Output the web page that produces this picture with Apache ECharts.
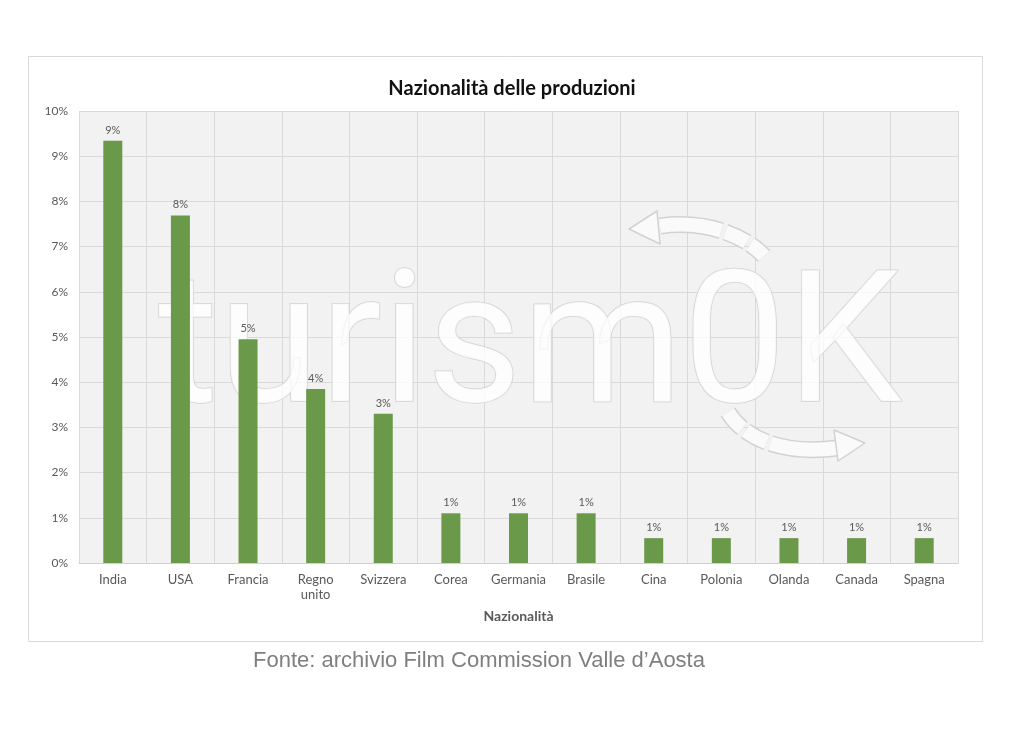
<!DOCTYPE html>
<html>
<head>
<meta charset="utf-8">
<style>html,body{margin:0;padding:0;background:#fff;}#c{width:1024px;height:740px;}</style>
<script src="https://cdn.jsdelivr.net/npm/echarts@6/dist/echarts.min.js"></script>
</head>
<body>
<div id="c"></div>
<script>
const categories = ['India','USA','Francia','Regno\nunito','Svizzera','Corea','Germania','Brasile','Cina','Polonia','Olanda','Canada','Spagna'];
const values = [9.34, 7.69, 4.95, 3.85, 3.30, 1.10, 1.10, 1.10, 0.55, 0.55, 0.55, 0.55, 0.55];
const yTicks = [0,1,2,3,4,5,6,7,8,9,10];
const titleText = 'Nazionalità delle produzioni';
const axisName = 'Nazionalità';
const sourceText = 'Fonte: archivio Film Commission Valle d\u2019Aosta';
const watermark = 'turism0K';

const chart = echarts.init(document.getElementById('c'), null, {renderer:'canvas'});
const font = 'Lato, "Noto Sans", sans-serif';
const wmOutline = '#d2d2d2';
const wmFill = 'rgba(255,255,255,0.8)';
chart.setOption({
  animation:false,
  backgroundColor:'#ffffff',
  title:{text:titleText,left:'center',top:74,textStyle:{fontFamily:font,fontWeight:'bold',fontSize:20,color:'#111'}},
  grid:{left:79,right:66,top:111,bottom:177,show:true,backgroundColor:'#f2f2f2',borderWidth:0},
  xAxis:{type:'category',data:categories,
    axisLine:{lineStyle:{color:'#d0d0d0'}},axisTick:{show:false},
    splitLine:{show:true,lineStyle:{color:'#d9d9d9',width:1}},
    axisLabel:{color:'#595959',fontFamily:font,fontSize:13,margin:9,interval:0,lineHeight:15},
    name:axisName,nameLocation:'middle',nameGap:46,
    nameTextStyle:{color:'#595959',fontFamily:font,fontWeight:'bold',fontSize:14}},
  yAxis:{type:'value',min:0,max:10,interval:1,
    axisLine:{show:false},axisTick:{show:false},
    splitLine:{lineStyle:{color:'#d9d9d9',width:1}},
    axisLabel:{color:'#595959',fontFamily:font,fontSize:12,margin:11,formatter:v=>v+'%'}},
  series:[{type:'bar',data:values,barWidth:19,z:3,
    itemStyle:{color:'#6a994a'},
    label:{show:true,position:'top',distance:5,color:'#595959',fontFamily:font,fontSize:11,
      formatter:p=>Math.round(p.value)+'%'}}],
  graphic:[
    {type:'rect',shape:{x:28.5,y:56.5,width:954,height:585},style:{fill:null,stroke:'#d9d9d9',lineWidth:1},z:0,silent:true},
    {type:'text',x:158,y:355,z:1,silent:true,
      style:{text:watermark,font:'184px Roboto, sans-serif',textVerticalAlign:'middle',fill:wmFill,stroke:wmOutline,lineWidth:1.5}},
    {type:'bezierCurve',z:1,silent:true,shape:{x1:660,y1:226,cpx1:705,cpy1:220,cpx2:745,cpy2:235,x2:764,y2:256},
      style:{stroke:wmOutline,lineWidth:17,fill:null,lineDash:[62,4,24,4,40]}},
    {type:'bezierCurve',z:1,silent:true,shape:{x1:660,y1:226,cpx1:705,cpy1:220,cpx2:745,cpy2:235,x2:764,y2:256},
      style:{stroke:'#fafafa',lineWidth:14,fill:null,lineDash:[62,4,24,4,40]}},
    {type:'polygon',z:1,silent:true,shape:{points:[[629,229],[657,211],[660,244]]},style:{fill:'#fafafa',stroke:wmOutline,lineWidth:1.5,lineJoin:'round'}},
    {type:'bezierCurve',z:1,silent:true,shape:{x1:728,y1:412,cpx1:745,cpy1:440,cpx2:785,cpy2:455,x2:838,y2:448},
      style:{stroke:wmOutline,lineWidth:17,fill:null,lineDash:[22,4,24,4,80]}},
    {type:'bezierCurve',z:1,silent:true,shape:{x1:728,y1:412,cpx1:745,cpy1:440,cpx2:785,cpy2:455,x2:838,y2:448},
      style:{stroke:'#fafafa',lineWidth:14,fill:null,lineDash:[22,4,24,4,80]}},
    {type:'polygon',z:1,silent:true,shape:{points:[[865,443],[834,430],[838,461]]},style:{fill:'#fafafa',stroke:wmOutline,lineWidth:1.5,lineJoin:'round'}},
    {type:'text',left:253,top:650,silent:true,
      style:{text:sourceText,font:'22px "Liberation Sans", Arial, sans-serif',fill:'#7f7f7f'}}
  ]
});
</script>
</body>
</html>
